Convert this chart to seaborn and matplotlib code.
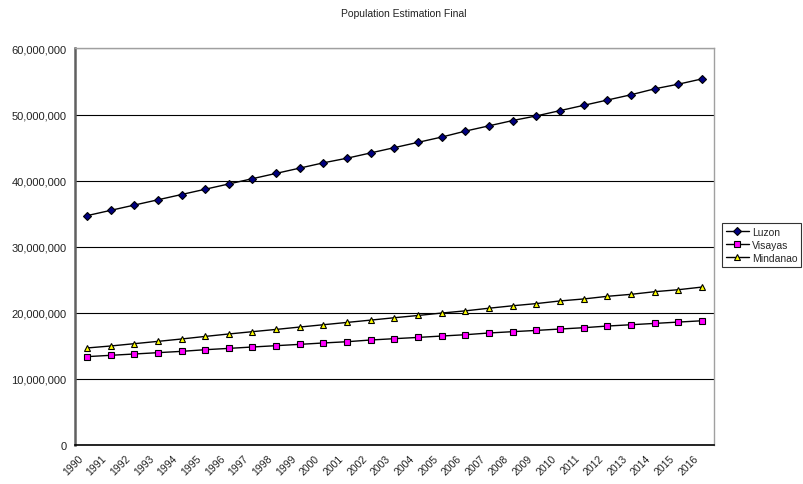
import matplotlib
matplotlib.use("Agg")
import matplotlib.pyplot as plt
import matplotlib.transforms as mtransforms
from matplotlib.ticker import FuncFormatter, FixedLocator
import seaborn as sns
import pandas as pd

years = list(range(1990, 2017))

luzon = [34.7, 35.5, 36.3, 37.1, 37.9, 38.7, 39.5, 40.3, 41.1, 41.9,
         42.7, 43.4, 44.2, 45.0, 45.8, 46.6, 47.5, 48.3, 49.1, 49.8,
         50.6, 51.4, 52.2, 53.0, 53.9, 54.6, 55.4]
visayas = [13.37, 13.57, 13.77, 13.97, 14.17, 14.42, 14.62, 14.83, 15.03, 15.23,
           15.44, 15.63, 15.89, 16.09, 16.28, 16.49, 16.69, 16.95, 17.15, 17.34,
           17.55, 17.75, 18.0, 18.2, 18.4, 18.6, 18.8]
mindanao = [14.68, 14.98, 15.33, 15.68, 16.04, 16.43, 16.80, 17.15, 17.49, 17.85,
            18.2, 18.55, 18.9, 19.26, 19.6, 19.97, 20.3, 20.7, 21.07, 21.4,
            21.8, 22.1, 22.5, 22.8, 23.2, 23.5, 23.9]

series_names = ["Luzon", "Visayas", "Mindanao"]
series_values = [luzon, visayas, mindanao]
marker_shapes = ["D", "s", "^"]
marker_faces = ["#000080", "#FF00FF", "#FFFF00"]
marker_sizes = [4.3, 5.0, 5.0]

frames = []
for name, vals in zip(series_names, series_values):
    frames.append(pd.DataFrame({
        "idx": range(len(years)),
        "region": name,
        "population": [v * 1_000_000 for v in vals],
    }))
df = pd.concat(frames, ignore_index=True)

sns.set_style("white")
plt.rcParams["font.family"] = ["Liberation Sans", "DejaVu Sans"]

fig = plt.figure(figsize=(8.04, 4.85), dpi=100)
ax = fig.add_axes([0.0933, 0.0804, 0.888 - 0.0933, 0.898 - 0.0804])

for name, mk, fc, ms in zip(series_names, marker_shapes, marker_faces, marker_sizes):
    sub = df[df["region"] == name]
    sns.lineplot(data=sub, x="idx", y="population", ax=ax, color="black",
                 linewidth=1.0, marker=mk, markersize=ms, markerfacecolor=fc,
                 markeredgecolor="black", markeredgewidth=0.8, label=name,
                 legend=False, zorder=3)

ax.set_xlim(-0.5, len(years) - 0.5)
ax.set_ylim(0, 60_000_000)
ax.set_xlabel("")
ax.set_ylabel("")

# y axis: gridlines every 10 million, comma-separated labels
ax.yaxis.set_major_locator(FixedLocator([i * 10_000_000 for i in range(7)]))
ax.yaxis.set_major_formatter(FuncFormatter(lambda v, p: f"{v:,.0f}"))
ax.grid(axis="y", color="black", linewidth=0.8)
ax.tick_params(axis="y", length=0, pad=6, labelsize=8, labelcolor="#222222")

# x axis: category labels at centres, tick marks on category boundaries
ax.set_xticks(range(len(years)))
ax.set_xticklabels([str(y) for y in years], rotation=45, ha="right",
                   va="center", rotation_mode="anchor", fontsize=7.5,
                   color="#222222")
ax.set_xticks([i - 0.5 for i in range(len(years) + 1)], minor=True)
ax.tick_params(axis="x", which="major", length=0, pad=8)
ax.tick_params(axis="x", which="minor", direction="in", length=4,
               width=0.8, color="black")
shift = mtransforms.ScaledTranslation(-4 / 72, 0, fig.dpi_scale_trans)
for lbl in ax.get_xticklabels():
    lbl.set_transform(lbl.get_transform() + shift)

for side in ["top", "right"]:
    ax.spines[side].set_visible(True)
    ax.spines[side].set_color("#A0A0A0")
    ax.spines[side].set_linewidth(1.0)
ax.spines["left"].set_color("#606060")
ax.spines["left"].set_linewidth(1.8)
ax.spines["bottom"].set_color("black")
ax.spines["bottom"].set_linewidth(1.2)

fig.text(0.502, 0.972, "Population Estimation Final", ha="center",
         va="center", fontsize=7.5, color="#222222")

handles, labels = ax.get_legend_handles_labels()
leg = fig.legend(handles, labels, loc="center left",
                 bbox_to_anchor=(722 / 804, 1 - 246 / 485),
                 fontsize=7.5, frameon=True, fancybox=False,
                 edgecolor="black", handlelength=2.2, handletextpad=0.3,
                 borderpad=0.35, labelspacing=0.3, borderaxespad=0)
leg.get_frame().set_linewidth(0.8)

fig.savefig("out.png", dpi=100)
